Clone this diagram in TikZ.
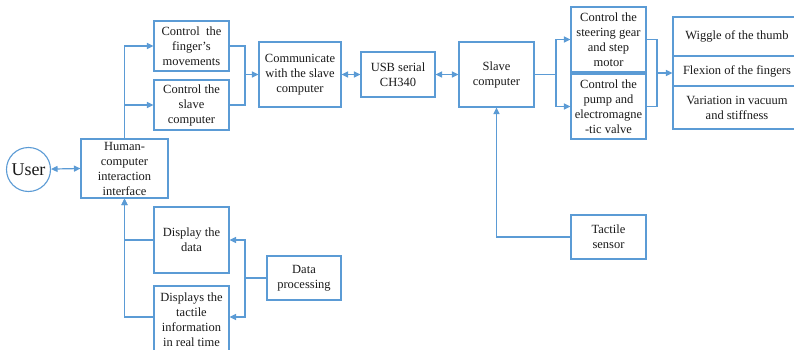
\documentclass[tikz,border=0pt]{standalone}
\usepackage{fontspec}
\setmainfont{Liberation Serif}
\usetikzlibrary{arrows.meta}
\definecolor{lineblue}{HTML}{5B9BD5}
\definecolor{txt}{HTML}{1A1A1A}
\tikzset{
  box/.style={draw=lineblue, line width=1.1pt, rectangle, inner sep=0pt, align=center,
    text=txt, font=\fontsize{12.5}{15}\selectfont},
  conn/.style={draw=lineblue, line width=1.2pt},
  arr/.style={conn, -{Triangle[length=6.5pt,width=6pt]}},
  darr/.style={conn, {Triangle[length=6.5pt,width=6pt]}-{Triangle[length=6.5pt,width=6pt]}}
}
\begin{document}
\begin{tikzpicture}[x=1pt,y=-1pt]
\clip (0,0) rectangle (794,350);
\fill[white] (0,0) rectangle (794,350);

\node[draw=lineblue, line width=1.1pt, circle, minimum size=44pt, inner sep=0pt, text=txt,
  font=\fontsize{18}{20}\selectfont] (user) at (28.5,169.5) {User};
\node[box, minimum width=87pt, minimum height=59pt] (hci) at (124.5,168.5)
  {Human-\\computer\\interaction\\interface};
\node[box, minimum width=75pt, minimum height=50pt] (finger) at (191.5,46)
  {Control\ \ the\\finger’s\\movements};
\node[box, minimum width=75pt, minimum height=50pt] (cslave) at (191.5,105)
  {Control the\\slave\\computer};
\node[box, minimum width=82pt, minimum height=65pt] (comm) at (300,74.5)
  {Communicate\\with the slave\\computer};
\node[box, minimum width=74pt, minimum height=45pt] (usb) at (398,74.5)
  {USB serial\\CH340};
\node[box, minimum width=75pt, minimum height=65pt] (slave) at (496.5,74.5)
  {Slave\\computer};
\node[box, minimum width=75pt, minimum height=65pt] (steer) at (608.5,39.5)
  {Control the\\steering gear\\and step\\motor};
\node[box, minimum width=75pt, minimum height=65pt] (pump) at (608.5,106.5)
  {Control the\\pump and\\electromagne\\-tic valve};
\node[box, minimum width=128pt, minimum height=39pt] (r1) at (737,36.5)
  {Wiggle of the thumb};
\node[box, minimum width=128pt, minimum height=30pt] (r2) at (737,71)
  {Flexion of the fingers};
\node[box, minimum width=128pt, minimum height=43pt] (r3) at (737,107.5)
  {Variation in vacuum\\and stiffness};
\node[box, minimum width=75pt, minimum height=44pt] (tactile) at (608.5,237)
  {Tactile\\sensor};
\node[box, minimum width=75pt, minimum height=66pt] (disp) at (191.5,240)
  {Display the\\data};
\node[box, minimum width=75pt, minimum height=68pt] (disptac) at (191.5,320)
  {Displays the\\tactile\\information\\in real time};
\node[box, minimum width=74pt, minimum height=44pt] (dproc) at (304,278)
  {Data\\processing};

\coordinate (m1) at (245,74.5);
\coordinate (s1) at (556,74.5);
\coordinate (m2) at (657,73);
\coordinate (m3) at (245,278);

% user <-> hci
\draw[darr] (user) -- (hci.west);
% hci up to control boxes
\draw[arr] (hci.north) |- (finger.west);
\draw[arr] (hci.north) |- (cslave.west);
% merge to communicate
\draw[conn] (finger.east) -| (m1);
\draw[conn] (cslave.east) -| (m1);
\draw[arr] (m1) -- (comm.west);
\draw[darr] (comm.east) -- (usb.west);
\draw[darr] (usb.east) -- (slave.west);
% slave to controls
\draw[conn] (slave.east) -- (s1);
\draw[arr] (s1) |- (steer.west);
\draw[arr] (s1) |- (pump.west);
% controls to results
\draw[conn] (steer.east) -| (m2);
\draw[conn] (pump.east) -| (m2);
\draw[arr] (m2) -- (m2 -| r2.west);
% tactile sensor
\draw[arr] (tactile.west) -| (slave.south);
% displays to hci
\draw[arr] (disp.west) -| (hci.south);
\draw[arr] ([yshift=3pt]disptac.west) -| (hci.south);
% data processing
\draw[conn] (dproc.west) -- (m3);
\draw[arr] (m3) |- (disp.east);
\draw[arr] (m3) |- ([yshift=3pt]disptac.east);
\end{tikzpicture}
\end{document}
